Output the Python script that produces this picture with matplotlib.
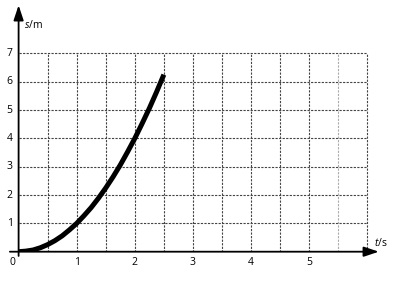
import matplotlib.pyplot as plt

plt.rcParams['font.family'] = ['Open Sans', 'DejaVu Sans']
plt.rcParams['mathtext.fontset'] = 'custom'
plt.rcParams['mathtext.it'] = 'Open Sans:italic'
plt.rcParams['mathtext.rm'] = 'Open Sans'

# time (s) and displacement (m)
t = [0, 0.125, 0.25, 0.375, 0.5, 0.625, 0.75, 0.875, 1.0, 1.125, 1.25,
     1.375, 1.5, 1.625, 1.75, 1.875, 2.0, 2.125, 2.25, 2.375, 2.5]
s = [0, 0.02, 0.06, 0.14, 0.25, 0.39, 0.56, 0.77, 1.0, 1.27, 1.56,
     1.89, 2.25, 2.64, 3.06, 3.52, 4.0, 4.52, 5.06, 5.64, 6.25]

x_ticks = [1, 2, 3, 4, 5]
y_ticks = [1, 2, 3, 4, 5, 6, 7]
x_grid = [0.5, 1, 1.5, 2, 2.5, 3, 3.5, 4, 4.5, 5, 5.5, 6]
y_grid = [1, 2, 3, 4, 5, 6, 7]

W, H = 395, 284
fig = plt.figure(figsize=(W / 100, H / 100), dpi=100)
px_x, px_y = 58.1, 28.33
x0, y0 = 18.6, 251.7
xmin, xmax, ymax = -0.3, 6.4, 9.0
ax = fig.add_axes([(x0 + xmin * px_x) / W, (H - y0) / H,
                   (xmax - xmin) * px_x / W, ymax * px_y / H])
ax.set_xlim(xmin, xmax)
ax.set_ylim(0, ymax)
ax.axis('off')

# grid
for yv in y_grid:
    ax.plot([0, 6], [yv, yv], color='#444444', lw=0.8, ls=(0, (2, 1.2)), zorder=1)
for xv in x_grid:
    c = '#aaaaaa' if xv == 5.5 else '#444444'
    ax.plot([xv, xv], [0, 7], color=c, lw=0.8, ls=(0, (2, 1.2)), zorder=1)

# axes with arrows
head = '-|>,head_length=0.9,head_width=0.3'
ax.annotate('', xy=(6.2, 0), xytext=(-0.15, 0),
            arrowprops=dict(arrowstyle=head, color='black', lw=1.3,
                            shrinkA=0, shrinkB=0), zorder=3)
ax.annotate('', xy=(0, 8.7), xytext=(0, -0.15),
            arrowprops=dict(arrowstyle=head, color='black', lw=1.3,
                            shrinkA=0, shrinkB=0), zorder=3)

# curve
ax.plot(t, s, color='black', lw=3.6, solid_capstyle='butt', zorder=4)

# tick labels
for xv in x_ticks:
    ax.text(xv, -0.18, str(xv), ha='center', va='top', fontsize=7.5)
for yv in y_ticks:
    ax.text(-0.1, yv, str(yv), ha='right', va='center', fontsize=7.5)
ax.text(-0.05, -0.18, '0', ha='right', va='top', fontsize=7.5)

ax.text(0.1, 8.0, '$s$/m', ha='left', va='center', fontsize=7.5)
ax.text(6.12, 0.32, '$t$/s', ha='left', va='center', fontsize=7.5)

fig.savefig('out.png', dpi=100)
